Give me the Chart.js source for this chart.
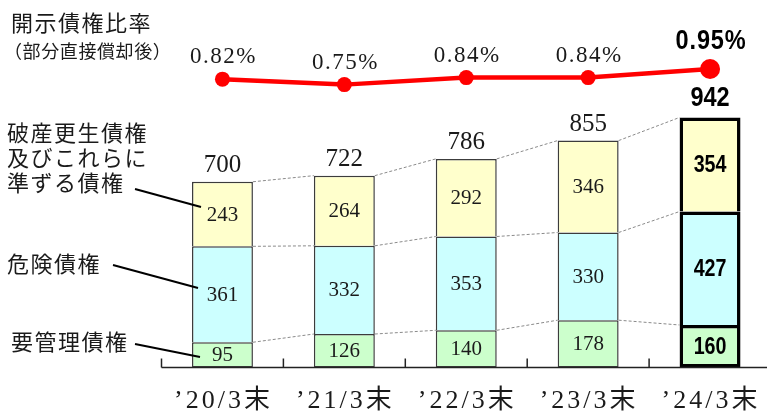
<!DOCTYPE html>
<html><head><meta charset="utf-8">
<script src="https://cdn.jsdelivr.net/npm/chart.js@4/dist/chart.umd.min.js"></script>
<style>html,body{margin:0;padding:0;background:#fff;overflow:hidden;width:767px;height:415px}canvas{display:block}</style>
</head><body><canvas id="c" width="772" height="415"></canvas>
<script>
// ---- data ----
const categories = ['’20/3末', '’21/3末', '’22/3末', '’23/3末', '’24/3末'];
const youKanri = [95, 126, 140, 178, 160];     // 要管理債権
const kiken = [361, 332, 353, 330, 427];        // 危険債権
const hasan = [243, 264, 292, 346, 354];        // 破産更生債権及びこれらに準ずる債権
const totals = [700, 722, 786, 855, 942];
const ratio = [0.82, 0.75, 0.84, 0.84, 0.95];   // 開示債権比率(%)
const seriesNames = ['要管理債権', '危険債権', '破産更生債権及びこれらに準ずる債権', '開示債権比率'];

const LAST = categories.length - 1;
const SERIF = '"Liberation Serif", "Noto Sans CJK JP", serif';
const BOLD = '"Liberation Sans", Arial, sans-serif';
const CJK = '"Noto Sans CJK JP", sans-serif';

function bw(ctx, isBottom) {
  const w = ctx.dataIndex === LAST ? 3.5 : 1.5;
  return { top: w, left: w, right: w, bottom: isBottom ? w : 0 };
}
function bc(ctx) { return ctx.dataIndex === LAST ? '#000' : '#3c3c3c'; }

function narrowText(ctx, text, x, y, sx) {
  ctx.save();
  ctx.translate(x, y);
  ctx.scale(sx, 1);
  ctx.fillText(text, 0, 0);
  ctx.restore();
}

const overlay = {
  id: 'overlay',
  afterDatasetsDraw(chart) {
    const ctx = chart.ctx;
    const area = chart.chartArea;
    const xs = chart.scales.x;
    const metas = [0, 1, 2].map(i => chart.getDatasetMeta(i));
    const vals = [youKanri, kiken, hasan];
    ctx.save();
    // dashed connectors
    ctx.strokeStyle = '#8a8a8a'; ctx.lineWidth = 1; ctx.setLineDash([3, 2]);
    metas.forEach(m => {
      for (let i = 0; i < m.data.length - 1; i++) {
        const a = m.data[i], b = m.data[i + 1];
        ctx.beginPath(); ctx.moveTo(a.x + a.width / 2, a.y); ctx.lineTo(b.x - b.width / 2, b.y); ctx.stroke();
      }
    });
    ctx.setLineDash([]);
    // axis line and ticks
    ctx.strokeStyle = '#222'; ctx.lineWidth = 1.5;
    ctx.beginPath(); ctx.moveTo(area.left, area.bottom); ctx.lineTo(767, area.bottom); ctx.stroke();
    const step = xs.getPixelForValue(1) - xs.getPixelForValue(0);
    for (let i = 0; i < categories.length; i++) {
      const x = xs.getPixelForValue(i) - step / 2;
      ctx.beginPath(); ctx.moveTo(x, area.bottom - 9); ctx.lineTo(x, area.bottom); ctx.stroke();
    }
    // inner value labels
    ctx.textAlign = 'center'; ctx.textBaseline = 'middle';
    metas.forEach((m, di) => {
      m.data.forEach((bar, i) => {
        const cy = (bar.y + bar.base) / 2;
        if (i === LAST) { ctx.font = 'bold 24px ' + BOLD; ctx.fillStyle = '#000'; narrowText(ctx, String(vals[di][i]), bar.x, cy + 1, 0.82); }
        else { ctx.font = '21px ' + SERIF; ctx.fillStyle = '#1a1a1a'; ctx.fillText(String(vals[di][i]), bar.x, cy + 1); }
      });
    });
    // totals
    const top = metas[2].data;
    top.forEach((bar, i) => {
      if (i === LAST) { ctx.font = 'bold 28px ' + BOLD; ctx.fillStyle = '#000'; narrowText(ctx, String(totals[i]), bar.x, bar.y - 19, 0.84); }
      else { ctx.font = '25px ' + SERIF; ctx.fillStyle = '#1a1a1a'; ctx.fillText(String(totals[i]), bar.x, bar.y - 16); }
    });
    // ratio labels
    const lm = chart.getDatasetMeta(3);
    lm.data.forEach((p, i) => {
      const t = ratio[i].toFixed(2) + '%';
      if (i === LAST) { ctx.font = 'bold 28px ' + BOLD; ctx.fillStyle = '#000'; ctx.letterSpacing = '1px'; narrowText(ctx, t, p.x + 1, p.y - 28, 0.84); }
      else { ctx.font = '23px ' + SERIF; ctx.fillStyle = '#1a1a1a'; ctx.letterSpacing = '1.5px'; ctx.fillText(t, p.x + 1, p.y - 22); }
    });
    // x labels
    ctx.font = '26px ' + SERIF; ctx.fillStyle = '#1a1a1a'; ctx.letterSpacing = '3px';
    categories.forEach((c, i) => ctx.fillText(c, xs.getPixelForValue(i) + 1, 401));
    // left annotations
    ctx.textAlign = 'left'; ctx.letterSpacing = '1.5px';
    ctx.font = '22px ' + CJK; ctx.fillStyle = '#1a1a1a';
    ctx.fillText('開示債権比率', 11, 23);
    ctx.font = '18px ' + CJK; ctx.letterSpacing = '0.6px';
    ctx.fillText('（部分直接償却後）', 4, 51);
    ctx.font = '22px ' + CJK; ctx.letterSpacing = '1.5px';
    ctx.fillText('破産更生債権', 7, 133);
    ctx.fillText('及びこれらに', 7, 158);
    ctx.fillText('準ずる債権', 7, 183);
    ctx.fillText('危険債権', 7, 264);
    ctx.fillText('要管理債権', 11, 342);
    ctx.letterSpacing = '0px';
    // leader lines
    ctx.strokeStyle = '#000'; ctx.lineWidth = 2;
    [[135, 189, 201, 207], [113, 265, 198, 288], [135, 344, 200, 357]].forEach(l => {
      ctx.beginPath(); ctx.moveTo(l[0], l[1]); ctx.lineTo(l[2], l[3]); ctx.stroke();
    });
    ctx.restore();
  }
};

new Chart(document.getElementById('c'), {
  data: {
    labels: categories,
    datasets: [
      { type: 'bar', label: seriesNames[0], data: youKanri, backgroundColor: '#ccffcc', borderColor: bc, borderWidth: c => bw(c, true), borderSkipped: false, yAxisID: 'y', categoryPercentage: 0.5, barPercentage: 1, order: 2 },
      { type: 'bar', label: seriesNames[1], data: kiken, backgroundColor: '#ccffff', borderColor: bc, borderWidth: c => bw(c, false), borderSkipped: false, yAxisID: 'y', categoryPercentage: 0.5, barPercentage: 1, order: 2 },
      { type: 'bar', label: seriesNames[2], data: hasan, backgroundColor: '#ffffcc', borderColor: bc, borderWidth: c => bw(c, false), borderSkipped: false, yAxisID: 'y', categoryPercentage: 0.5, barPercentage: 1, order: 2 },
      { type: 'line', label: seriesNames[3], data: ratio, yAxisID: 'y2', borderColor: '#ff0000', backgroundColor: '#ff0000', borderWidth: 4.5, pointRadius: c => c.dataIndex === LAST ? 10 : 7.5, pointBackgroundColor: '#ff0000', pointBorderWidth: 0, tension: 0, order: 1, clip: false }
    ]
  },
  options: {
    responsive: false, animation: false, devicePixelRatio: 1,
    layout: { autoPadding: false, padding: { left: 161.5, right: 1, top: 0, bottom: 47.5 } },
    plugins: { legend: { display: false }, tooltip: { enabled: false } },
    scales: {
      x: { display: false, stacked: true, offset: true },
      y: { display: false, stacked: true, min: 0, max: 1383 },
      y2: { display: false, min: -2.877, max: 1.835 }
    }
  },
  plugins: [overlay]
});
</script></body></html>
